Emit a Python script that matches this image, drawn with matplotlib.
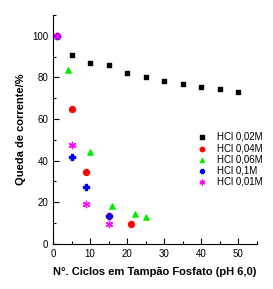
import matplotlib
matplotlib.use("Agg")
import matplotlib.pyplot as plt
from matplotlib.ticker import MultipleLocator

plt.rcParams['font.family'] = ['Liberation Sans', 'DejaVu Sans']

# HCl 0,02M
x_002 = [1, 5, 10, 15, 20, 25, 30, 35, 40, 45, 50]
y_002 = [100, 91, 87, 86, 82, 80, 78.5, 77, 75.5, 74.5, 73]
# HCl 0,04M
x_004 = [1, 5, 9, 15, 21]
y_004 = [100, 65, 34.5, 13.5, 9.5]
# HCl 0,06M
x_006 = [1, 4, 10, 16, 22, 25]
y_006 = [100, 83.5, 44, 18.3, 14.3, 13]
# HCl 0,1M
x_01 = [1, 5, 9, 15]
y_01 = [100, 41.7, 27.3, 13.3]
# HCl 0,01M
x_001 = [1, 5, 9, 15]
y_001 = [100, 47.5, 19, 9.5]

fig = plt.figure(figsize=(2.73, 2.89), dpi=100)
ax = fig.add_axes([0.194, 0.156, 0.747, 0.792])

ax.scatter(x_002, y_002, marker='s', s=12, color='black', label='HCl 0,02M', zorder=3)
ax.scatter(x_004, y_004, marker='o', s=18, color='red', label='HCl 0,04M', zorder=3)
ax.scatter(x_006, y_006, marker='^', s=14, color='#00ee00', label='HCl 0,06M', zorder=3)
ax.scatter(x_01, y_01, marker='P', s=14, color='blue', label='HCl 0,1M', zorder=3)
ax.scatter(x_001, y_001, marker=(6, 2, 0), s=20, color='magenta', linewidths=1.0,
           label='HCl 0,01M', zorder=3)

ax.set_xlim(0, 55)
ax.set_ylim(0, 110)
ax.set_xticks([0, 10, 20, 30, 40, 50])
ax.set_yticks([0, 20, 40, 60, 80, 100])
ax.xaxis.set_minor_locator(MultipleLocator(5))
ax.yaxis.set_minor_locator(MultipleLocator(10))

ax.spines['top'].set_visible(False)
ax.spines['right'].set_visible(False)
ax.tick_params(which='both', direction='in', labelsize=7, width=0.8)
ax.tick_params(which='major', length=4)
ax.tick_params(which='minor', length=2.5)

ax.set_xlabel('N°. Ciclos em Tampão Fosfato (pH 6,0)', fontsize=8, fontweight='bold', labelpad=6)
ax.set_ylabel('Queda de corrente/%', fontsize=8, fontweight='bold', labelpad=4)

ax.legend(loc='center left', bbox_to_anchor=(0.66, 0.37), frameon=False, fontsize=7,
          handletextpad=0.5, labelspacing=0.12, markerscale=0.75, borderpad=0)

fig.savefig('out.png', dpi=100)
